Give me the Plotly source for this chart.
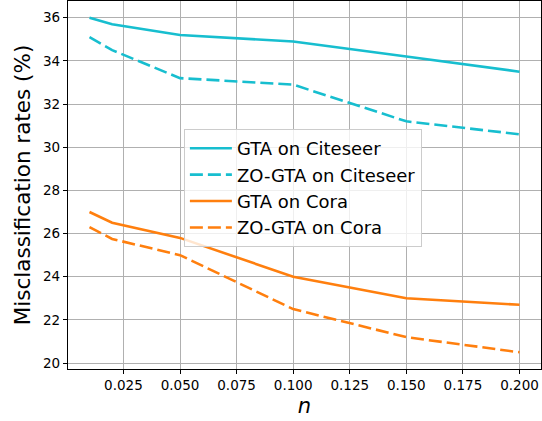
import plotly.graph_objects as go

n_values = [0.01, 0.02, 0.05, 0.1, 0.15, 0.2]
gta_citeseer = [36.0, 35.7, 35.2, 34.9, 34.2, 33.5]
zo_gta_citeseer = [35.1, 34.5, 33.2, 32.9, 31.2, 30.6]
gta_cora = [27.0, 26.5, 25.8, 24.0, 23.0, 22.7]
zo_gta_cora = [26.3, 25.75, 25.0, 22.5, 21.2, 20.5]

cyan = "#17becf"
orange = "#ff7f0e"

fig = go.Figure()
series = [
    ("GTA on Citeseer", gta_citeseer, cyan, "solid"),
    ("ZO-GTA on Citeseer", zo_gta_citeseer, cyan, "13px,5px"),
    ("GTA on Cora", gta_cora, orange, "solid"),
    ("ZO-GTA on Cora", zo_gta_cora, orange, "13px,5px"),
]
for name, ys, col, dash in series:
    fig.add_trace(go.Scatter(x=n_values, y=ys, mode="lines", name=name,
                             line=dict(color=col, width=2.6, dash=dash)))

font = "DejaVu Sans"
fig.update_layout(
    width=542, height=421,
    margin=dict(l=68, r=1, t=1, b=52),
    paper_bgcolor="white", plot_bgcolor="white",
    font=dict(family=font, color="black"),
    legend=dict(x=0.245, y=0.652, xanchor="left", yanchor="top",
                bgcolor="rgba(255,255,255,0.8)", bordercolor="#cccccc",
                borderwidth=1, font=dict(size=18, family=font),
                tracegroupgap=0, itemwidth=42),
    showlegend=True,
)
fig.update_xaxes(
    range=[0.0005, 0.2095], tickvals=[0.025, 0.05, 0.075, 0.1, 0.125, 0.15, 0.175, 0.2],
    ticktext=["0.025", "0.050", "0.075", "0.100", "0.125", "0.150", "0.175", "0.200"],
    showgrid=True, gridcolor="#b0b0b0", gridwidth=1,
    showline=True, linecolor="black", linewidth=1.2, mirror=True,
    ticks="outside", ticklen=4, tickcolor="black", tickfont=dict(size=13.5),
    zeroline=False,
    title=dict(text="<i>n</i>", font=dict(size=21), standoff=6),
)
fig.update_yaxes(
    range=[19.725, 36.775], tickvals=[20, 22, 24, 26, 28, 30, 32, 34, 36],
    showgrid=True, gridcolor="#b0b0b0", gridwidth=1,
    showline=True, linecolor="black", linewidth=1.2, mirror=True,
    ticks="outside", ticklen=4, tickcolor="black", tickfont=dict(size=13.5),
    zeroline=False,
    title=dict(text="Misclassification rates (%)", font=dict(size=21.5), standoff=6),
)
fig.write_html("out.html", config={"displayModeBar": False},
               post_script="document.body.style.margin='0';")
